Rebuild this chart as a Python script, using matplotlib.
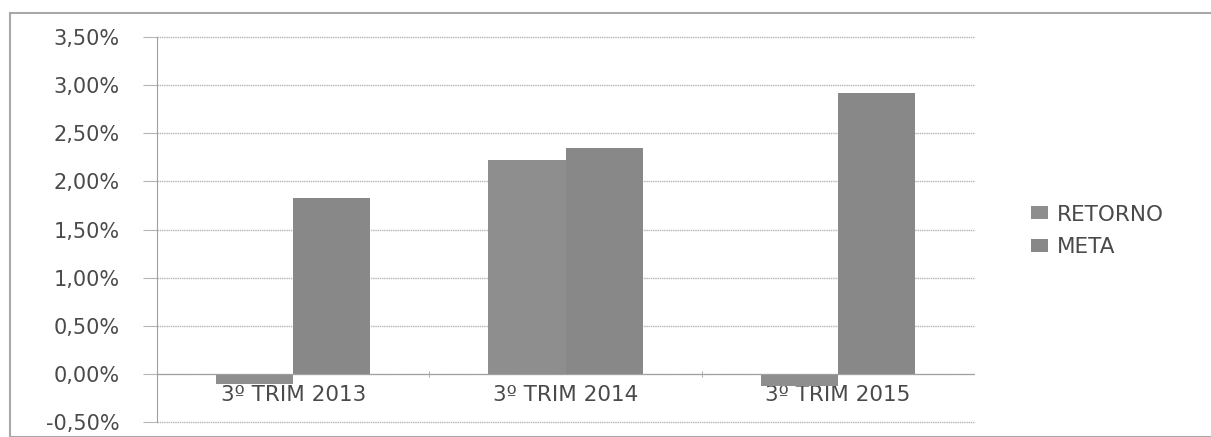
import numpy as np
import matplotlib.pyplot as plt
from matplotlib.patches import Rectangle
from matplotlib.ticker import FuncFormatter

categorias = ['3º TRIM 2013', '3º TRIM 2014', '3º TRIM 2015']
retorno = [-0.10, 2.22, -0.13]
meta = [1.83, 2.35, 2.92]
ticks_y = [-0.5, 0.0, 0.5, 1.0, 1.5, 2.0, 2.5, 3.0, 3.5]

plt.rcParams['font.family'] = ['DejaVu Sans']
cor_texto = '#4a4a4a'

fig = plt.figure(figsize=(12.11, 4.37), dpi=100)
ax = fig.add_axes([157 / 1211, 15 / 437, 817 / 1211, 385 / 437])

x = np.arange(len(categorias))
w = 0.283
ax.bar(x - w / 2, retorno, w, color='#8e8e8e', label='RETORNO')
ax.bar(x + w / 2, meta, w, color='#888888', label='META')

ax.set_xlim(-0.5, 2.5)
ax.set_ylim(-0.5, 3.5)
ax.set_yticks(ticks_y)
ax.yaxis.set_major_formatter(FuncFormatter(lambda v, p: ('%.2f%%' % v).replace('.', ',')))
ax.grid(axis='y', color='#b5b5b5', linestyle=(0, (1, 0.6)), linewidth=1.0)
for gl in ax.get_ygridlines():
    gl.set_clip_on(False)
ax.set_axisbelow(True)

for s in ['top', 'right']:
    ax.spines[s].set_visible(False)
ax.spines['left'].set_color('#a0a0a0')
ax.spines['bottom'].set_position(('data', 0))
ax.spines['bottom'].set_color('#a0a0a0')

ax.set_xticks(x)
ax.set_xticklabels(categorias)
ax.set_xticks([0.5, 1.5], minor=True)
ax.tick_params(axis='x', which='major', length=0, pad=8, labelsize=15.5, labelcolor=cor_texto)
ax.tick_params(axis='x', which='minor', length=4, color='#a0a0a0', direction='inout')
ax.tick_params(axis='y', length=10, color='#b5b5b5', pad=17, labelsize=15, labelcolor=cor_texto)

leg = fig.legend(loc='center left', bbox_to_anchor=(1012 / 1211, 1 - 231 / 437), frameon=False,
                 fontsize=15.5, handlelength=0.75, handleheight=0.55, handletextpad=0.45,
                 labelspacing=0.6)
for t in leg.get_texts():
    t.set_color(cor_texto)

fig.patches.append(Rectangle((10 / 1211, 0), 1.0, 1 - 13 / 437, transform=fig.transFigure,
                             fill=False, edgecolor='#a8a8a8', linewidth=1.5))

fig.savefig('out.png', dpi=100)
